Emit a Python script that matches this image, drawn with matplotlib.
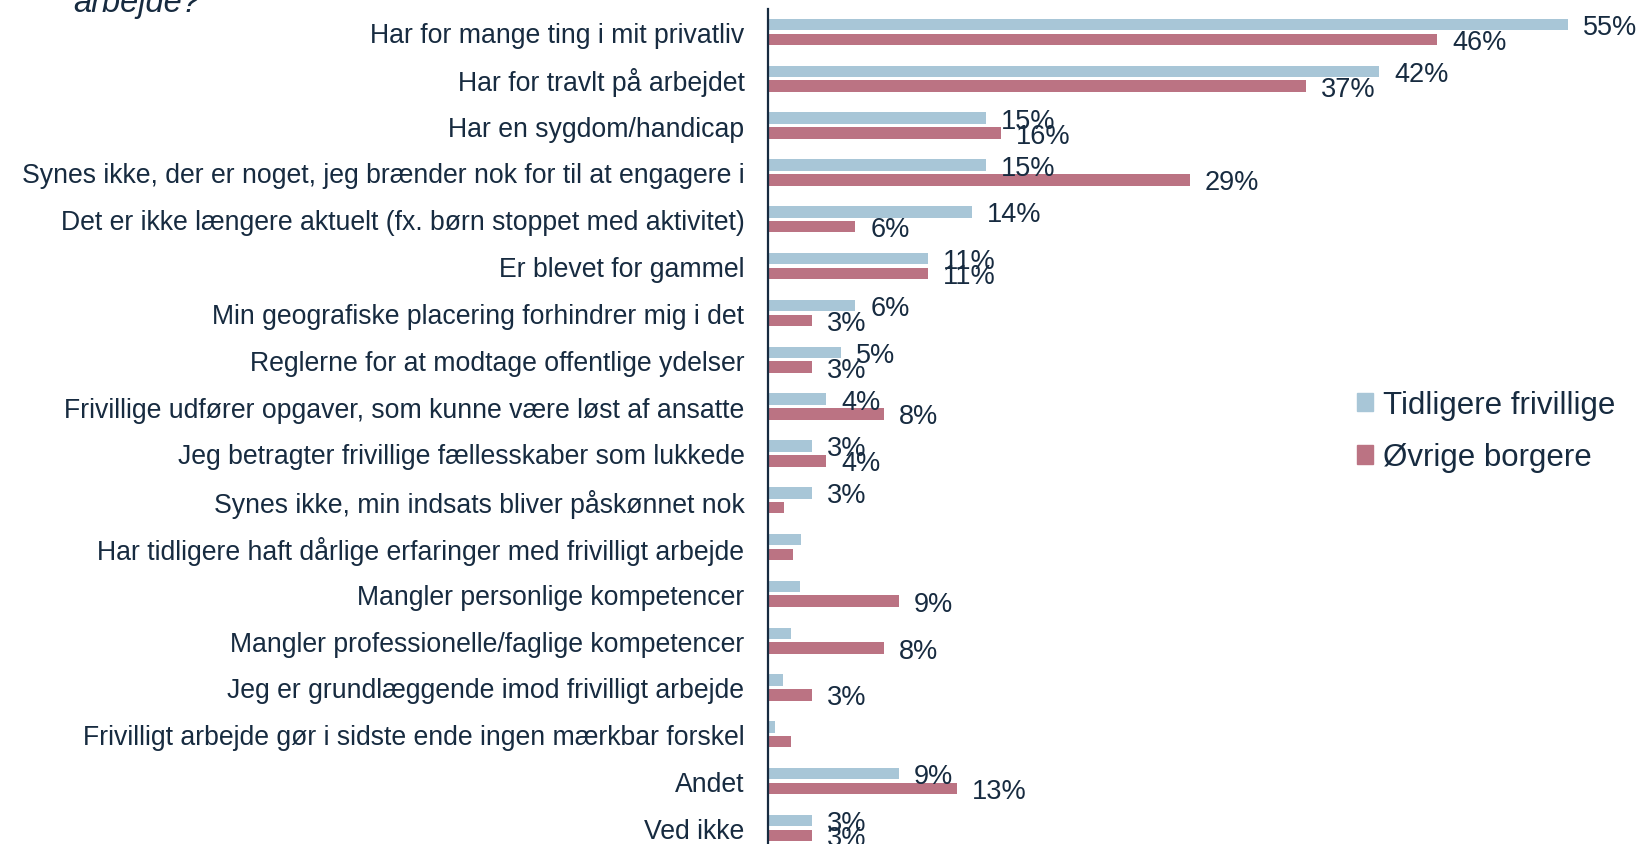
import numpy as np
import matplotlib
matplotlib.use("Agg")
import matplotlib.pyplot as plt
from matplotlib.patches import Patch

plt.rcParams['font.family'] = ['Liberation Sans', 'DejaVu Sans']

categories = [
    "Har for mange ting i mit privatliv",
    "Har for travlt på arbejdet",
    "Har en sygdom/handicap",
    "Synes ikke, der er noget, jeg brænder nok for til at engagere i",
    "Det er ikke længere aktuelt (fx. børn stoppet med aktivitet)",
    "Er blevet for gammel",
    "Min geografiske placering forhindrer mig i det",
    "Reglerne for at modtage offentlige ydelser",
    "Frivillige udfører opgaver, som kunne være løst af ansatte",
    "Jeg betragter frivillige fællesskaber som lukkede",
    "Synes ikke, min indsats bliver påskønnet nok",
    "Har tidligere haft dårlige erfaringer med frivilligt arbejde",
    "Mangler personlige kompetencer",
    "Mangler professionelle/faglige kompetencer",
    "Jeg er grundlæggende imod frivilligt arbejde",
    "Frivilligt arbejde gør i sidste ende ingen mærkbar forskel",
    "Andet",
    "Ved ikke",
]
tidligere = [55, 42, 15, 15, 14, 11, 6, 5, 4, 3, 3, 2.3, 2.2, 1.6, 1.0, 0.5, 9, 3]
ovrige = [46, 37, 16, 29, 6, 11, 3, 3, 8, 4, 1.1, 1.7, 9, 8, 3, 1.6, 13, 3]
series_names = ["Tidligere frivillige", "Øvrige borgere"]

c_blue = "#a8c6d7"
c_red = "#bb7383"
c_text = "#172b40"

W, H = 1639, 845
fig = plt.figure(figsize=(W / 100, H / 100), dpi=100)
ax = fig.add_axes([768 / W, 0, 872.7 / W, 835 / H])

y = np.arange(len(categories))
off = 0.158
h = 0.245
ax.barh(y - off, tidligere, height=h, color=c_blue)
ax.barh(y + off, ovrige, height=h, color=c_red)

# værdier vises kun for søjler på mindst 2,5 %
for vals, dy in [(tidligere, -off), (ovrige, off)]:
    for i, v in enumerate(vals):
        if v >= 2.5:
            ax.annotate(f"{v:.0f}%", (v, i + dy), xytext=(10.8, -1.8),
                        textcoords="offset points", ha="left", va="center",
                        fontsize=19.5, color=c_text)

ax.set_xlim(0, 60)
ax.set_ylim(17.343, -0.491)
ax.set_yticks(y)
ax.set_yticklabels(categories, fontsize=19.15, color=c_text)
ax.tick_params(axis="y", length=0, pad=17)
ax.set_xticks([])
for s in ["top", "right", "bottom"]:
    ax.spines[s].set_visible(False)
ax.spines["left"].set_color(c_text)
ax.spines["left"].set_linewidth(1.6)

handles = [Patch(color=c_blue), Patch(color=c_red)]
fig.legend(handles, series_names, loc="upper left",
           bbox_to_anchor=(1357 / W, 1 - 391 / H), frameon=False,
           fontsize=22.5, handlelength=0.52, handleheight=0.52,
           handletextpad=0.3, labelspacing=0.72, borderpad=0, borderaxespad=0,
           labelcolor=c_text)

# titlen står delvis over kanten
fig.text(73 / W, 1 - 12 / H, "arbejde?", fontsize=23.5, style="italic",
         color=c_text, ha="left", va="baseline")

fig.savefig("out.png", dpi=100)
